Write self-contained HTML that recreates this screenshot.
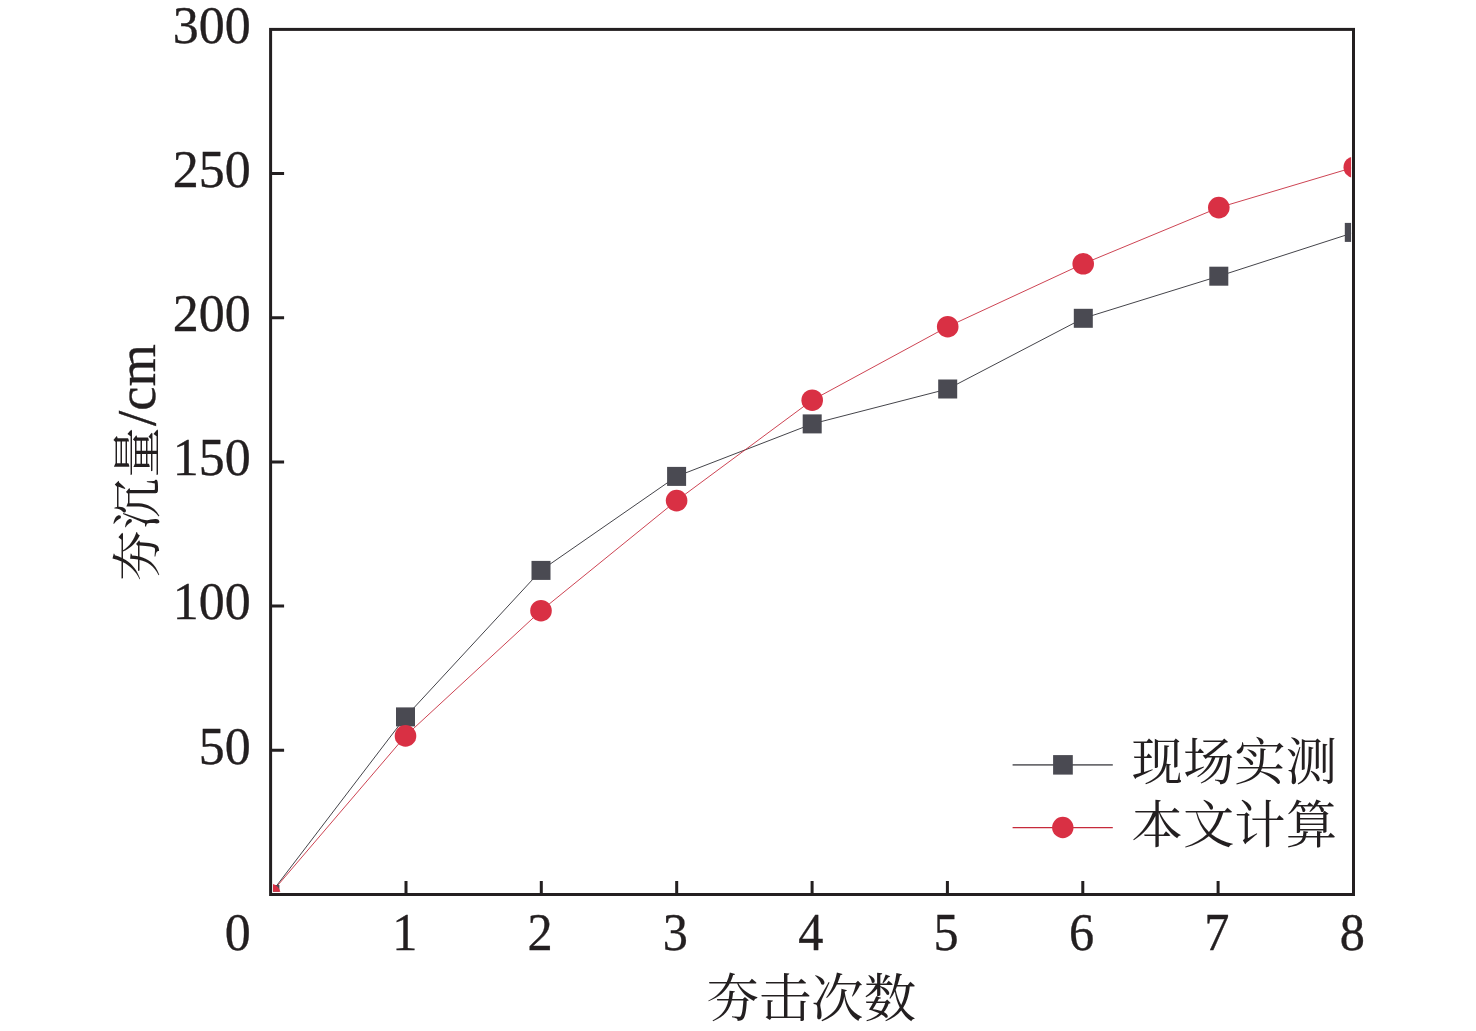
<!DOCTYPE html>
<html lang="zh"><head><meta charset="utf-8"><title>夯沉量</title>
<style>html,body{margin:0;padding:0;background:#fff}svg{display:block}.n{font-family:"Liberation Serif","Noto Serif CJK SC",serif;font-size:53.5px;fill:#231f20;stroke:#231f20;stroke-width:.35px}.c{font-family:"Liberation Serif","Noto Serif CJK SC",serif;font-size:51px;fill:#231f20}</style></head><body>
<svg width="1476" height="1031" viewBox="0 0 1476 1031">
<rect width="1476" height="1031" fill="#fff"/>
<defs><clipPath id="cp"><rect x="273.0" y="32.0" width="1078.1" height="859.8"/></clipPath></defs>
<g clip-path="url(#cp)">
<polyline fill="none" stroke="#3a3a40" stroke-width="0.95" points="269.9,894.5 405.5,716.9 541.0,570.4 676.6,476.4 812.2,423.9 947.7,389.0 1083.2,318.3 1218.8,276.2 1354.3,232.4"/>
<polyline fill="none" stroke="#c62a3b" stroke-width="0.88" points="269.9,894.5 405.5,735.9 541.0,610.7 676.6,500.6 812.2,400.2 947.7,326.7 1083.2,263.8 1218.8,207.6 1354.3,167.2"/>
<rect x="260.4" y="885.0" width="19" height="19" fill="#4a4a52"/>
<rect x="396.0" y="707.4" width="19" height="19" fill="#4a4a52"/>
<rect x="531.5" y="560.9" width="19" height="19" fill="#4a4a52"/>
<rect x="667.1" y="466.9" width="19" height="19" fill="#4a4a52"/>
<rect x="802.7" y="414.4" width="19" height="19" fill="#4a4a52"/>
<rect x="938.2" y="379.5" width="19" height="19" fill="#4a4a52"/>
<rect x="1073.8" y="308.8" width="19" height="19" fill="#4a4a52"/>
<rect x="1209.3" y="266.7" width="19" height="19" fill="#4a4a52"/>
<rect x="1344.8" y="222.9" width="19" height="19" fill="#4a4a52"/>
<circle cx="269.9" cy="894.5" r="10.8" fill="#d93044"/>
<circle cx="405.5" cy="735.9" r="10.8" fill="#d93044"/>
<circle cx="541.0" cy="610.7" r="10.8" fill="#d93044"/>
<circle cx="676.6" cy="500.6" r="10.8" fill="#d93044"/>
<circle cx="812.2" cy="400.2" r="10.8" fill="#d93044"/>
<circle cx="947.7" cy="326.7" r="10.8" fill="#d93044"/>
<circle cx="1083.2" cy="263.8" r="10.8" fill="#d93044"/>
<circle cx="1218.8" cy="207.6" r="10.8" fill="#d93044"/>
<circle cx="1354.3" cy="167.2" r="10.8" fill="#d93044"/>
</g>
<rect x="270.6" y="29.4" width="1082.9" height="865.1" fill="none" stroke="#231f20" stroke-width="3"/>
<path d="M270.6 750.3h13.5M270.6 606.1h13.5M270.6 461.9h13.5M270.6 317.8h13.5M270.6 173.6h13.5M406.0 894.5v-13.5M541.3 894.5v-13.5M676.7 894.5v-13.5M812.1 894.5v-13.5M947.4 894.5v-13.5M1082.8 894.5v-13.5M1218.1 894.5v-13.5" stroke="#231f20" stroke-width="3" fill="none"/>
<text class="n" transform="translate(250.8 763.9) scale(0.972 1)" text-anchor="end">50</text>
<text class="n" transform="translate(250.8 619.2) scale(0.972 1)" text-anchor="end">100</text>
<text class="n" transform="translate(250.8 475.1) scale(0.972 1)" text-anchor="end">150</text>
<text class="n" transform="translate(250.8 330.9) scale(0.972 1)" text-anchor="end">200</text>
<text class="n" transform="translate(250.8 186.7) scale(0.972 1)" text-anchor="end">250</text>
<text class="n" transform="translate(250.8 42.5) scale(0.972 1)" text-anchor="end">300</text>
<text class="n" transform="translate(250.8 949.5) scale(0.972 1)" text-anchor="end">0</text>
<text class="n" transform="translate(404.7 949.5) scale(0.94 1)" text-anchor="middle">1</text>
<text class="n" transform="translate(540.0 949.5) scale(0.94 1)" text-anchor="middle">2</text>
<text class="n" transform="translate(675.4 949.5) scale(0.94 1)" text-anchor="middle">3</text>
<text class="n" transform="translate(810.8 949.5) scale(0.94 1)" text-anchor="middle">4</text>
<text class="n" transform="translate(946.1 949.5) scale(0.94 1)" text-anchor="middle">5</text>
<text class="n" transform="translate(1081.5 949.5) scale(0.94 1)" text-anchor="middle">6</text>
<text class="n" transform="translate(1216.8 949.5) scale(0.94 1)" text-anchor="middle">7</text>
<text class="n" transform="translate(1352.2 949.5) scale(0.94 1)" text-anchor="middle">8</text>
<text class="c" x="811.3" y="1016.5" style="font-size:52.4px" text-anchor="middle">夯击次数</text>
<text class="c" transform="translate(154.9 462.6) rotate(-90)" style="font-size:50.5px;letter-spacing:1.2px" text-anchor="middle">夯沉量<tspan style="font-size:54.5px;letter-spacing:0;stroke:#231f20;stroke-width:.35px">/cm</tspan></text>
<path d="M1012.6 764.9H1112.8" stroke="#6c6c70" stroke-width="1.6"/>
<rect x="1053.1" y="755.1" width="19.7" height="19.5" fill="#4a4a52"/>
<path d="M1012.6 827.6H1112.8" stroke="#c62a3b" stroke-width="1.2"/>
<circle cx="1062.8" cy="827.5" r="10.7" fill="#d93044"/>
<text class="c" x="1131.5" y="779.8" style="font-size:51.4px">现场实测</text>
<text class="c" x="1131.5" y="843" style="font-size:51.4px">本文计算</text>
</svg></body></html>
